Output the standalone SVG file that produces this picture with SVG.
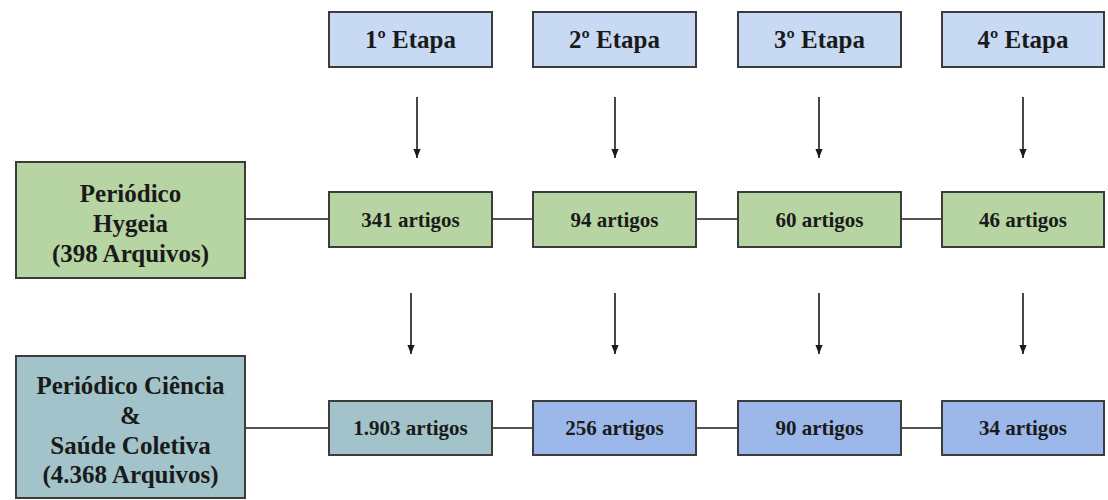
<svg xmlns="http://www.w3.org/2000/svg" width="1108" height="500" viewBox="0 0 1108 500">
<defs>
<marker id="ah" viewBox="0 0 10 10" refX="10" refY="5" markerWidth="9" markerHeight="9" markerUnits="userSpaceOnUse" orient="auto">
<path d="M0,1 L10,5 L0,9 Z" fill="#1a1a1a"/>
</marker>
</defs>
<style>
.box{stroke:#3c3c3c;stroke-width:2}
.etapa{fill:#c8d9f3}
.green{fill:#b7d4a3}
.teal{fill:#a1c3c9}
.blue{fill:#9cb7ea}
.t1,.t2,.t3{font-family:Liberation Serif,serif;font-weight:bold;fill:#1a1a1a;text-anchor:middle}
.t1{font-size:25px}
.t2{font-size:21px}
.t3{font-size:25px}
.ln{stroke:#1a1a1a;stroke-width:1.6;fill:none}
</style>
<rect width="1108" height="500" fill="#ffffff"/>
<g id="connectors">
<line class="ln" x1="417" y1="97" x2="417" y2="158" marker-end="url(#ah)"/>
<line class="ln" x1="615" y1="97" x2="615" y2="158" marker-end="url(#ah)"/>
<line class="ln" x1="819" y1="97" x2="819" y2="158" marker-end="url(#ah)"/>
<line class="ln" x1="1023" y1="97" x2="1023" y2="158" marker-end="url(#ah)"/>
<line class="ln" x1="411" y1="293" x2="411" y2="354" marker-end="url(#ah)"/>
<line class="ln" x1="615" y1="293" x2="615" y2="354" marker-end="url(#ah)"/>
<line class="ln" x1="819" y1="293" x2="819" y2="354" marker-end="url(#ah)"/>
<line class="ln" x1="1023" y1="293" x2="1023" y2="354" marker-end="url(#ah)"/>
<line class="ln" x1="245" y1="219" x2="329" y2="219"/>
<line class="ln" x1="492" y1="219" x2="533" y2="219"/>
<line class="ln" x1="696" y1="219" x2="738" y2="219"/>
<line class="ln" x1="901" y1="219" x2="942" y2="219"/>
<line class="ln" x1="245" y1="428" x2="329" y2="428"/>
<line class="ln" x1="492" y1="428" x2="533" y2="428"/>
<line class="ln" x1="696" y1="428" x2="738" y2="428"/>
<line class="ln" x1="901" y1="428" x2="942" y2="428"/>
</g>
<g id="etapa1"><rect class="box etapa" x="329" y="12" width="163" height="55"/><text class="t1" font-family="Liberation Serif" x="410.5" y="48">1º Etapa</text></g>
<g id="etapa2"><rect class="box etapa" x="533" y="12" width="163" height="55"/><text class="t1" font-family="Liberation Serif" x="614.5" y="48">2º Etapa</text></g>
<g id="etapa3"><rect class="box etapa" x="738" y="12" width="163" height="55"/><text class="t1" font-family="Liberation Serif" x="819.5" y="48">3º Etapa</text></g>
<g id="etapa4"><rect class="box etapa" x="942" y="12" width="162" height="55"/><text class="t1" font-family="Liberation Serif" x="1023" y="48">4º Etapa</text></g>
<g id="hygeia"><rect class="box green" x="16" y="162" width="229" height="116"/>
<text class="t3" font-family="Liberation Serif" x="130.5" y="202">Periódico</text>
<text class="t3" font-family="Liberation Serif" x="130.5" y="232">Hygeia</text>
<text class="t3" font-family="Liberation Serif" x="130.5" y="262">(398 Arquivos)</text></g>
<g id="h1"><rect class="box green" x="329" y="192" width="163" height="55"/><text class="t2" font-family="Liberation Serif" x="410.5" y="227">341 artigos</text></g>
<g id="h2"><rect class="box green" x="533" y="192" width="163" height="55"/><text class="t2" font-family="Liberation Serif" x="614.5" y="227">94 artigos</text></g>
<g id="h3"><rect class="box green" x="738" y="192" width="163" height="55"/><text class="t2" font-family="Liberation Serif" x="819.5" y="227">60 artigos</text></g>
<g id="h4"><rect class="box green" x="942" y="192" width="162" height="55"/><text class="t2" font-family="Liberation Serif" x="1023" y="227">46 artigos</text></g>
<g id="ciencia"><rect class="box teal" x="16" y="356" width="229" height="142"/>
<text class="t3" font-family="Liberation Serif" x="130.5" y="394">Periódico Ciência</text>
<text class="t3" font-family="Liberation Serif" x="130.5" y="424">&amp;</text>
<text class="t3" font-family="Liberation Serif" x="130.5" y="454">Saúde Coletiva</text>
<text class="t3" font-family="Liberation Serif" x="130.5" y="483">(4.368 Arquivos)</text></g>
<g id="c1"><rect class="box teal" x="329" y="401" width="163" height="54"/><text class="t2" font-family="Liberation Serif" x="410.5" y="435">1.903 artigos</text></g>
<g id="c2"><rect class="box blue" x="533" y="401" width="163" height="54"/><text class="t2" font-family="Liberation Serif" x="614.5" y="435">256 artigos</text></g>
<g id="c3"><rect class="box blue" x="738" y="401" width="163" height="54"/><text class="t2" font-family="Liberation Serif" x="819.5" y="435">90 artigos</text></g>
<g id="c4"><rect class="box blue" x="942" y="401" width="162" height="54"/><text class="t2" font-family="Liberation Serif" x="1023" y="435">34 artigos</text></g>
</svg>
